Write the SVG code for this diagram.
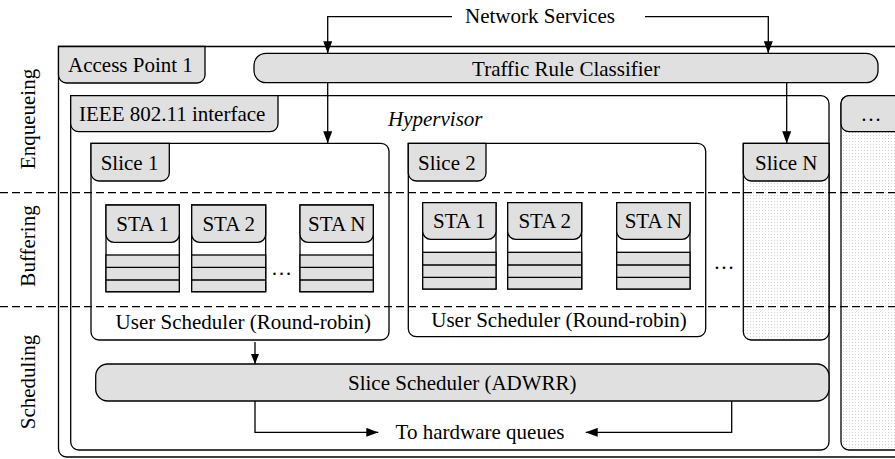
<svg xmlns="http://www.w3.org/2000/svg" width="895" height="459" viewBox="0 0 895 459">
<style>
text{font-family:'Liberation Serif','Times New Roman',serif;font-size:21px;fill:#000}
.c{text-anchor:middle}
.box{fill:#fff;stroke:#000;stroke-width:1.3}
.tab{fill:#e0e0e0;stroke:#000;stroke-width:1.3}
.dot{fill:url(#dots);stroke:#000;stroke-width:1.3}
.ln{fill:none;stroke:#000;stroke-width:1.3}
.dash{fill:none;stroke:#000;stroke-width:1.3;stroke-dasharray:8 4}
</style>
<defs>
<pattern id="dots" width="3" height="3" patternUnits="userSpaceOnUse">
<rect width="3" height="3" fill="#fff"/>
<rect width="1" height="1" fill="#d2d2d2"/>
</pattern>
<marker id="ah" markerWidth="12" markerHeight="9" refX="12" refY="4.5" orient="auto" markerUnits="userSpaceOnUse">
<path d="M0,0 L12,4.5 L0,9 z" fill="#000"/>
</marker>
<marker id="ahs" markerWidth="10" markerHeight="8" refX="10" refY="4" orient="auto" markerUnits="userSpaceOnUse">
<path d="M0,0 L10,4 L0,8 z" fill="#000"/>
</marker>
</defs>

<!-- Phase labels -->
<g id="phases">
<text class="c" transform="translate(35,119) rotate(-90)">Enqueueing</text>
<text class="c" transform="translate(35,246) rotate(-90)">Buffering</text>
<text class="c" transform="translate(35,382) rotate(-90)">Scheduling</text>
</g>

<!-- Access Point 1 -->
<g id="ap1">
<path class="box" d="M58.5,46.5 H905 V457 H66.5 A8,8 0 0 1 58.5,449 Z"/>
<path class="tab" d="M58.5,46.5 H205 V75 A8,8 0 0 1 197,83 H66.5 A8,8 0 0 1 58.5,75 Z"/>
<text x="68" y="71.7">Access Point 1</text>
</g>

<!-- Other AP (...) -->
<g id="ap-more">
<path class="dot" d="M849,95.7 H905 V450 H849 A8,8 0 0 1 841,442 V103.7 A8,8 0 0 1 849,95.7 Z"/>
<path class="tab" d="M849,95.7 H905 V131.7 H849 A8,8 0 0 1 841,123.7 V103.7 A8,8 0 0 1 849,95.7 Z"/>
<text class="c" x="871" y="120.5">…</text>
</g>

<!-- Traffic Rule Classifier -->
<g id="classifier">
<rect class="tab" x="254" y="53.3" width="624" height="29.4" rx="12"/>
<text class="c" x="566" y="76">Traffic Rule Classifier</text>
</g>

<!-- Hypervisor / IEEE 802.11 interface -->
<g id="hypervisor">
<path class="box" d="M70.7,95.7 H821 A8,8 0 0 1 829,103.7 V442 A8,8 0 0 1 821,450 H78.7 A8,8 0 0 1 70.7,442 Z"/>
<path class="tab" d="M70.7,95.7 H278 V123.7 A8,8 0 0 1 270,131.7 H78.7 A8,8 0 0 1 70.7,123.7 Z"/>
<text x="79" y="120.7">IEEE 802.11 interface</text>
<text x="388" y="126" font-style="italic">Hypervisor</text>
</g>

<!-- Slice 1 -->
<g id="slice1">
<path class="box" d="M91,143.3 H381 A8,8 0 0 1 389,151.3 V332 A8,8 0 0 1 381,340 H99 A8,8 0 0 1 91,332 Z"/>
<path class="tab" d="M91,143.3 H169.3 V173 A8,8 0 0 1 161.3,181 H99 A8,8 0 0 1 91,173 Z"/>
<text x="100.7" y="170">Slice 1</text>
<g id="s1-sta1">
<rect class="box" x="106" y="205" width="73.3" height="86.7"/>
<rect class="tab" x="106" y="255" width="73.3" height="36.7"/>
<path class="ln" d="M106,267.3 H179.3 M106,280 H179.3"/>
<path class="tab" d="M106,205 H179.3 V234.3 A8,8 0 0 1 171.3,242.3 H114 A8,8 0 0 1 106,234.3 Z"/>
<text class="c" x="142.6" y="230.7">STA 1</text>
</g>
<g id="s1-sta2">
<rect class="box" x="191.7" y="205" width="74" height="86.7"/>
<rect class="tab" x="191.7" y="255" width="74" height="36.7"/>
<path class="ln" d="M191.7,267.3 H265.7 M191.7,280 H265.7"/>
<path class="tab" d="M191.7,205 H265.7 V234.3 A8,8 0 0 1 257.7,242.3 H199.7 A8,8 0 0 1 191.7,234.3 Z"/>
<text class="c" x="228.7" y="230.7">STA 2</text>
</g>
<g id="s1-stan">
<rect class="box" x="300" y="205" width="73.3" height="86.7"/>
<rect class="tab" x="300" y="255" width="73.3" height="36.7"/>
<path class="ln" d="M300,267.3 H373.3 M300,280 H373.3"/>
<path class="tab" d="M300,205 H373.3 V234.3 A8,8 0 0 1 365.3,242.3 H308 A8,8 0 0 1 300,234.3 Z"/>
<text class="c" x="336.7" y="230.7">STA N</text>
</g>
<text class="c" x="281.5" y="274.5">…</text>
<text class="c" x="243.3" y="329.3">User Scheduler (Round-robin)</text>
</g>

<!-- Slice 2 -->
<g id="slice2">
<path class="box" d="M408.3,143.3 H697.7 A8,8 0 0 1 705.7,151.3 V328.7 A8,8 0 0 1 697.7,336.7 H416.3 A8,8 0 0 1 408.3,328.7 Z"/>
<path class="tab" d="M408.3,143.3 H486 V173 A8,8 0 0 1 478,181 H416.3 A8,8 0 0 1 408.3,173 Z"/>
<text x="418" y="170">Slice 2</text>
<g id="s2-sta1">
<rect class="box" x="422.7" y="202.7" width="73.3" height="86.3"/>
<rect class="tab" x="422.7" y="252.3" width="73.3" height="36.7"/>
<path class="ln" d="M422.7,265 H496 M422.7,277.3 H496"/>
<path class="tab" d="M422.7,202.7 H496 V231.3 A8,8 0 0 1 488,239.3 H430.7 A8,8 0 0 1 422.7,231.3 Z"/>
<text class="c" x="459.3" y="228.3">STA 1</text>
</g>
<g id="s2-sta2">
<rect class="box" x="507.7" y="202.7" width="74" height="86.3"/>
<rect class="tab" x="507.7" y="252.3" width="74" height="36.7"/>
<path class="ln" d="M507.7,265 H581.7 M507.7,277.3 H581.7"/>
<path class="tab" d="M507.7,202.7 H581.7 V231.3 A8,8 0 0 1 573.7,239.3 H515.7 A8,8 0 0 1 507.7,231.3 Z"/>
<text class="c" x="544.7" y="228.3">STA 2</text>
</g>
<g id="s2-stan">
<rect class="box" x="616.7" y="202.7" width="73.3" height="86.3"/>
<rect class="tab" x="616.7" y="252.3" width="73.3" height="36.7"/>
<path class="ln" d="M616.7,265 H690 M616.7,277.3 H690"/>
<path class="tab" d="M616.7,202.7 H690 V231.3 A8,8 0 0 1 682,239.3 H624.7 A8,8 0 0 1 616.7,231.3 Z"/>
<text class="c" x="653.3" y="228.3">STA N</text>
</g>
<text class="c" x="559" y="326.7">User Scheduler (Round-robin)</text>
</g>
<text class="c" x="724" y="268.5">…</text>

<!-- Slice N -->
<g id="sliceN">
<path class="dot" d="M743.3,143.3 H829 V332 A8,8 0 0 1 821,340 H751.3 A8,8 0 0 1 743.3,332 Z"/>
<path class="tab" d="M743.3,143.3 H829 V173 A8,8 0 0 1 821,181 H751.3 A8,8 0 0 1 743.3,173 Z"/>
<text class="c" x="786.3" y="170">Slice N</text>
</g>

<!-- Slice Scheduler -->
<g id="slice-scheduler">
<rect class="tab" x="95.7" y="364" width="733.3" height="37" rx="12"/>
<text class="c" x="462.3" y="390">Slice Scheduler (ADWRR)</text>
</g>

<!-- Phase separators -->
<g id="separators">
<line class="dash" x1="0" y1="192.7" x2="895" y2="192.7"/>
<line class="dash" x1="0" y1="306.7" x2="895" y2="306.7"/>
</g>

<!-- Labels -->
<g id="network-services">
<text x="465" y="23.3">Network Services</text>
</g>
<g id="hw-queues">
<text class="c" x="480" y="439.3">To hardware queues</text>
</g>

<!-- Connectors -->
<g id="connectors">
<path class="ln" d="M452,16.7 H327.7 V53.3" marker-end="url(#ah)"/>
<path class="ln" d="M645,16.7 H768.3 V53.3" marker-end="url(#ah)"/>
<path class="ln" d="M327.7,82.7 V143.3" marker-end="url(#ah)"/>
<path class="ln" d="M786.7,82.7 V143.3" marker-end="url(#ah)"/>
<path class="ln" d="M255,342 V364" marker-end="url(#ahs)"/>
<path class="ln" d="M255,401 V432.3 H378.3" marker-end="url(#ah)"/>
<path class="ln" d="M731.7,401 V432.3 H585.7" marker-end="url(#ah)"/>
</g>
</svg>
